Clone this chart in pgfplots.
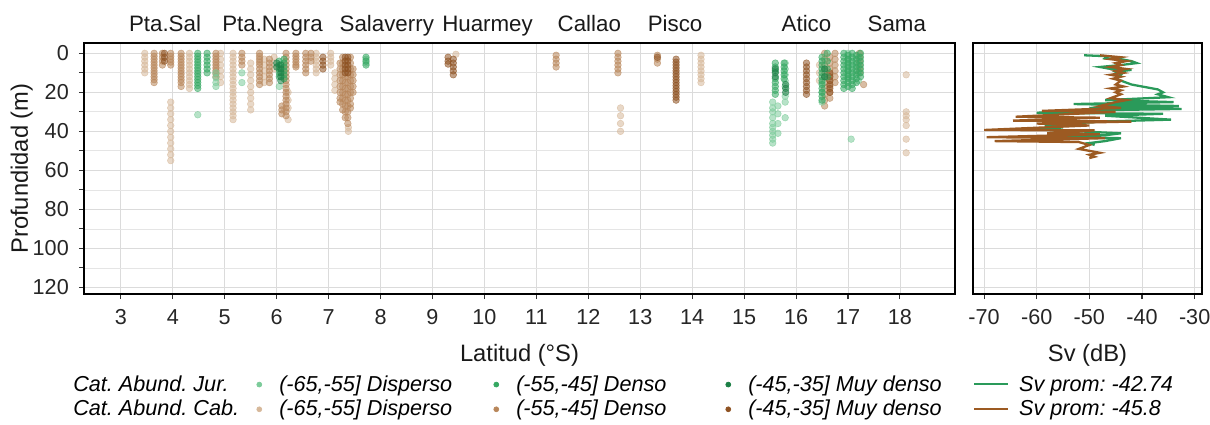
\documentclass[border=0pt]{standalone}
\usepackage{fontspec}
\setmainfont{Liberation Sans}
\usepackage{pgfplots}
\pgfplotsset{compat=1.18}
\frenchspacing

\definecolor{jurL}{HTML}{7CCB9A}
\definecolor{jurD}{HTML}{35A862}
\definecolor{jurM}{HTML}{1B7F45}
\definecolor{cabL}{HTML}{D6B89A}
\definecolor{cabD}{HTML}{B8865A}
\definecolor{cabM}{HTML}{8E5222}
\definecolor{svJ}{HTML}{2A9A5A}
\definecolor{svC}{HTML}{9C5A22}

\pgfplotsset{
  panel/.style={
    scale only axis, anchor=south west, height=5.02cm,
    y dir=reverse, ymin=-5.3, ymax=123.4,
    ytick={0,20,...,120}, minor ytick={10,30,...,110},
    grid=both,
    major grid style={black!14, line width=0.5pt},
    minor grid style={black!10, line width=0.4pt},
    axis line style={black, line width=0.9pt},
    tick style={black!80, line width=0.6pt},
    major tick length=0.1cm, minor tick length=0.1cm,
    tick align=outside, xtick pos=bottom, ytick pos=left,
    tick label style={font=\fontsize{12.3}{14}\selectfont, text=black!85},
    xticklabel style={yshift=-0.08cm},
    yticklabel style={xshift=-0.08cm},
    /pgf/number format/assume math mode=true,
    label style={font=\fontsize{13.5}{15}\selectfont, text=black!90},
    xlabel style={at={(axis description cs:0.5,-0.243)}, anchor=center},
  },
  pts/.style={only marks, mark=*, mark size=1.9pt, forget plot,
    mark options={fill opacity=0.55, draw opacity=0.65, line width=0.3pt}},
  dotkey/.style={legend image code/.code={%
    \draw[draw=none] (0cm,-0.1cm) rectangle (0.8cm,0.1cm);
    \draw[##1, only marks, mark=*, mark size=1.4pt] plot coordinates {(0.4cm,0.13cm)};}},
  linekey/.style={legend image code/.code={%
    \draw[draw=none] (0cm,-0.1cm) rectangle (0.9cm,0.1cm);
    \draw[##1, line width=1pt] (0cm,0.14cm) -- (0.68cm,0.14cm);}},
}

\begin{document}
\begin{tikzpicture}
\useasboundingbox (0,0) rectangle (24.2cm,-8.5cm);

\begin{axis}[panel, name=main,
  at={(1.68cm,-5.88cm)}, width=17.42cm,
  xmin=2.29, xmax=19.06, xtick={3,4,...,18},
  clip=false,
  xlabel={Latitud (°S)},
  ylabel={Profundidad (m)},
  ylabel style={at={(axis description cs:-0.0714,0.5)}, anchor=center},
  legend columns=5,
  legend style={draw=none, fill=none, inner sep=0pt, at={(axis description cs:-0.0127,-0.323)}, anchor=north west,
    font=\fontsize{12.3}{14}\selectfont\itshape, column sep=0pt, row sep=2.3pt,
    nodes={inner sep=0pt, anchor=base west}},
]
% legend
\addlegendimage{empty legend}\addlegendentry{\makebox[3.32cm][l]{Cat. Abund. Jur.}}
\addlegendimage{dotkey, color=jurL}\addlegendentry{\makebox[3.94cm][l]{(-65,-55] Disperso}}
\addlegendimage{dotkey, color=jurD}\addlegendentry{\makebox[3.84cm][l]{(-55,-45] Denso}}
\addlegendimage{dotkey, color=jurM}\addlegendentry{\makebox[4.5cm][l]{(-45,-35] Muy denso}}
\addlegendimage{linekey, color=svJ}\addlegendentry{Sv prom: -42.74}
\addlegendimage{empty legend}\addlegendentry{\makebox[3.32cm][l]{Cat. Abund. Cab.}}
\addlegendimage{dotkey, color=cabL}\addlegendentry{\makebox[3.94cm][l]{(-65,-55] Disperso}}
\addlegendimage{dotkey, color=cabD}\addlegendentry{\makebox[3.84cm][l]{(-55,-45] Denso}}
\addlegendimage{dotkey, color=cabM}\addlegendentry{\makebox[4.5cm][l]{(-45,-35] Muy denso}}
\addlegendimage{linekey, color=svC}\addlegendentry{Sv prom: -45.8}

% Cab. Disperso
\addplot[pts, color=cabL] table[row sep=\\]{x y\\
3.46 0\\ 3.46 2\\ 3.46 4\\ 3.46 6\\ 3.46 8\\ 3.46 10\\
3.96 25\\ 3.96 28\\ 3.96 31\\ 3.96 34\\ 3.96 37\\ 3.96 40\\ 3.96 43\\ 3.96 46\\ 3.96 49\\ 3.96 52\\ 3.96 55\\
4.32 0\\ 4.32 2\\ 4.32 4\\ 4.32 6\\ 4.32 8\\ 4.32 10\\ 4.32 12\\ 4.32 14\\ 4.32 16\\ 4.32 18\\
4.92 0\\ 4.92 3\\ 4.92 6\\ 4.92 9\\ 4.92 12\\ 4.92 15\\
5.16 0\\ 5.16 2\\ 5.16 4\\ 5.16 6\\ 5.16 8\\ 5.16 10\\ 5.16 12\\ 5.16 14\\ 5.16 16\\ 5.16 18\\ 5.16 20\\ 5.16 22\\ 5.16 24\\ 5.16 26\\ 5.16 28\\ 5.16 30\\ 5.16 32\\ 5.16 34\\
5.50 5\\ 5.50 8\\ 5.50 11\\ 5.50 14\\ 5.50 17\\ 5.50 20\\ 5.50 23\\ 5.50 26\\ 5.50 29\\
5.76 3\\ 5.76 6\\ 5.76 9\\ 5.76 12\\ 5.76 15\\
5.95 2\\ 5.95 5\\ 5.95 8\\
6.22 20\\ 6.22 24\\ 6.22 28\\ 6.22 34\\
6.76 0\\ 6.76 2\\ 6.76 4\\ 6.76 6\\ 6.76 8\\ 6.76 10\\
7.04 0\\ 7.04 2\\ 7.04 4\\ 7.04 6\\
7.12 10\\ 7.12 13\\ 7.12 16\\ 7.12 19\\
7.38 38\\ 7.38 40\\
9.45 0.5\\
12.62 28\\ 12.62 32\\ 12.62 36\\ 12.62 40\\
14.17 1\\ 14.17 3\\ 14.17 5\\ 14.17 7\\ 14.17 9\\ 14.17 11\\ 14.17 13\\ 14.17 15\\
16.45 6\\ 16.45 10\\ 16.45 14\\
18.12 11\\ 18.12 30\\ 18.12 32\\ 18.12 34\\ 18.12 37\\ 18.12 44\\ 18.12 51\\
};
% Cab. Denso
\addplot[pts, color=cabD] table[row sep=\\]{x y\\
3.64 0\\ 3.64 1.5\\ 3.64 3\\ 3.64 4.5\\ 3.64 6\\ 3.64 7.5\\ 3.64 9\\ 3.64 10.5\\ 3.64 12\\ 3.64 13.5\\ 3.64 15\\
3.80 0\\ 3.80 2\\ 3.80 4\\ 3.80 6\\
3.96 0\\ 3.96 1.5\\ 3.96 3\\ 3.96 4.5\\ 3.96 6\\
4.16 0\\ 4.16 1.5\\ 4.16 3\\ 4.16 4.5\\ 4.16 6\\ 4.16 7.5\\ 4.16 9\\ 4.16 10.5\\ 4.16 12\\ 4.16 13.5\\ 4.16 15\\ 4.16 17\\
4.83 0\\ 4.83 1.5\\ 4.83 3\\ 4.83 4.5\\ 4.83 6\\ 4.83 7.5\\ 4.83 9\\ 4.83 10.5\\ 4.83 12\\
5.33 0\\ 5.33 2\\ 5.33 4\\ 5.33 6\\
5.67 0\\ 5.67 1.5\\ 5.67 3\\ 5.67 4.5\\ 5.67 6\\ 5.67 8\\ 5.67 10\\ 5.67 12\\ 5.67 14\\ 5.67 16\\
5.86 3\\ 5.86 5\\ 5.86 7\\ 5.86 9\\ 5.86 11\\ 5.86 13\\ 5.86 15\\
6.10 27\\ 6.10 29\\ 6.10 31\\
6.18 0\\ 6.18 2\\ 6.18 4\\ 6.18 6\\ 6.18 8\\ 6.18 10\\ 6.18 12\\ 6.18 14\\ 6.18 16\\ 6.18 18\\ 6.18 20\\ 6.18 22\\ 6.18 24\\ 6.18 26\\ 6.18 28\\ 6.18 30\\ 6.18 32\\
6.37 0\\ 6.37 1.5\\ 6.37 3\\ 6.37 4.5\\ 6.37 6\\ 6.37 7\\
6.56 0\\ 6.56 2\\ 6.56 4\\ 6.56 6\\ 6.56 8\\ 6.56 10\\
6.66 0\\ 6.66 2\\ 6.66 4\\
7.22 5\\ 7.22 8\\ 7.22 11\\ 7.22 14\\ 7.22 17\\ 7.22 20\\ 7.22 23\\ 7.22 25\\
7.27 2\\ 7.27 5\\ 7.27 8\\ 7.27 11\\ 7.27 14\\ 7.27 17\\ 7.27 20\\ 7.27 23\\ 7.27 26\\ 7.27 29\\
7.32 12\\ 7.32 15\\ 7.32 18\\ 7.32 21\\ 7.32 24\\ 7.32 27\\ 7.32 30\\ 7.32 33\\
7.37 12\\ 7.37 15\\ 7.37 18\\ 7.37 21\\ 7.37 24\\ 7.37 27\\ 7.37 30\\ 7.37 33\\ 7.37 36\\
7.42 2\\ 7.42 5\\ 7.42 8\\ 7.42 11\\ 7.42 14\\ 7.42 17\\ 7.42 20\\ 7.42 23\\ 7.42 26\\ 7.42 28\\
7.47 8\\ 7.47 11\\ 7.47 14\\ 7.47 17\\ 7.47 20\\
11.38 1\\ 11.38 3\\ 11.38 5\\ 11.38 7\\
12.57 0\\ 12.57 2\\ 12.57 4\\ 12.57 6\\ 12.57 8\\ 12.57 10\\
13.33 1\\ 13.33 3\\ 13.33 5\\
16.55 0\\ 16.55 3\\ 16.55 6\\ 16.55 9\\ 16.55 12\\ 16.55 15\\ 16.55 18\\ 16.55 21\\ 16.55 24\\ 16.55 27\\
16.65 2\\ 16.65 5\\ 16.65 8\\ 16.65 11\\ 16.65 14\\ 16.65 17\\ 16.65 20\\ 16.65 23\\
16.75 0\\ 16.75 3\\ 16.75 6\\ 16.75 9\\ 16.75 12\\ 16.75 15\\
17.22 0\\ 17.22 2\\ 17.22 4\\ 17.22 6\\ 17.22 8\\ 17.22 10\\
17.30 16\\
};
% Cab. Muy denso
\addplot[pts, color=cabM] table[row sep=\\]{x y\\
3.84 0\\ 3.84 2\\ 3.84 4\\
6.89 2\\ 6.89 4\\ 6.89 6\\ 6.89 8\\
7.32 2\\ 7.32 4\\ 7.32 6\\ 7.32 8\\ 7.32 10\\
7.37 2\\ 7.37 4\\ 7.37 6\\ 7.37 8\\ 7.37 10\\
9.30 2\\ 9.30 4\\ 9.30 5.5\\
9.40 3\\ 9.40 5\\ 9.40 7\\ 9.40 9\\ 9.40 11\\
13.33 2\\
13.69 3\\ 13.69 4.5\\ 13.69 6\\ 13.69 7.5\\ 13.69 9\\ 13.69 10.5\\ 13.69 12\\ 13.69 13.5\\ 13.69 15\\ 13.69 16.5\\ 13.69 18\\ 13.69 19.5\\ 13.69 21\\ 13.69 22.5\\ 13.69 24\\
16.20 5\\ 16.20 7\\ 16.20 9\\ 16.20 11\\ 16.20 13\\ 16.20 15\\ 16.20 17\\ 16.20 19\\ 16.20 21\\
16.65 10\\ 16.65 12\\ 16.65 14\\ 16.65 16\\ 16.65 18\\ 16.65 20\\
};
% Jur. Disperso
\addplot[pts, color=jurL] table[row sep=\\]{x y\\
4.48 31.5\\
4.83 10\\ 4.83 12.5\\ 4.83 15\\ 4.83 17\\
5.33 10\\ 5.33 15\\
6.05 17\\
7.72 3\\ 7.72 5\\
15.55 25\\ 15.55 28\\ 15.55 30\\ 15.55 33\\ 15.55 36\\ 15.55 38\\ 15.55 40\\ 15.55 42\\ 15.55 44\\ 15.55 46\\
15.65 27\\ 15.65 31\\ 15.65 36\\ 15.65 41\\
15.79 5\\ 15.79 8\\ 15.79 11\\ 15.79 14\\ 15.79 17\\ 15.79 22\\ 15.79 25\\ 15.79 33\\
16.50 15\\ 16.50 20\\ 16.50 25\\
17.06 44\\
17.00 0\\ 17.00 3\\ 17.00 6\\ 17.00 9\\ 17.00 12\\
17.20 2\\ 17.20 6\\ 17.20 10\\ 17.20 14\\
};
% Jur. Denso
\addplot[pts, color=jurD] table[row sep=\\]{x y\\
4.48 0\\ 4.48 1.5\\ 4.48 3\\ 4.48 4.5\\ 4.48 6\\ 4.48 7.5\\ 4.48 9\\ 4.48 10.5\\ 4.48 12\\ 4.48 13.5\\ 4.48 15\\ 4.48 16.5\\ 4.48 18\\
4.66 0\\ 4.66 2\\ 4.66 4\\ 4.66 6\\ 4.66 8\\ 4.66 10\\
6.05 4\\ 6.05 6\\ 6.05 8\\ 6.05 10\\ 6.05 12\\
6.14 3\\ 6.14 5\\ 6.14 7\\ 6.14 9\\ 6.14 11\\ 6.14 13\\
7.72 2\\ 7.72 4\\ 7.72 6\\
15.60 5\\ 15.60 7\\ 15.60 9\\ 15.60 13\\ 15.60 15\\ 15.60 17\\ 15.60 19\\ 15.60 21\\
15.77 5\\ 15.77 7\\ 15.77 9\\ 15.77 11\\ 15.77 13\\
16.50 2\\ 16.50 4\\ 16.50 6\\ 16.50 8\\ 16.50 10\\ 16.50 12\\ 16.50 14\\ 16.50 16\\ 16.50 18\\ 16.50 20\\ 16.50 22\\ 16.50 24\\
16.60 0\\ 16.60 4\\ 16.60 8\\ 16.60 12\\
16.92 0\\ 16.92 2\\ 16.92 4\\ 16.92 6\\ 16.92 8\\ 16.92 10\\ 16.92 12\\ 16.92 14\\ 16.92 16\\ 16.92 18\\
17.00 1\\ 17.00 3\\ 17.00 5\\ 17.00 7\\ 17.00 9\\ 17.00 11\\ 17.00 13\\ 17.00 15\\ 17.00 17\\
17.08 0\\ 17.08 2\\ 17.08 4\\ 17.08 6\\ 17.08 8\\ 17.08 10\\ 17.08 12\\ 17.08 14\\ 17.08 16\\ 17.08 18\\
17.16 1\\ 17.16 3\\ 17.16 5\\ 17.16 7\\ 17.16 9\\ 17.16 11\\ 17.16 13\\ 17.16 15\\
17.24 0\\ 17.24 2\\ 17.24 4\\ 17.24 6\\ 17.24 8\\ 17.24 10\\ 17.24 12\\
};
% Jur. Muy denso
\addplot[pts, color=jurM] table[row sep=\\]{x y\\
6.00 5\\ 6.00 7\\
6.08 6\\ 6.08 8\\ 6.08 10\\ 6.08 12\\ 6.08 14\\
15.60 8\\ 15.60 10\\ 15.60 12\\
15.80 16\\ 15.80 18\\ 15.80 20\\
16.55 8\\ 16.55 12\\
};

% zone labels above the panel
\foreach \lat/\name in {3.85/Pta.Sal, 5.92/Pta.Negra, 8.12/Salaverry, 10.06/Huarmey, 12.02/Callao, 13.67/Pisco, 16.2/Atico, 17.94/Sama}{
  \edef\tmp{\noexpand\node[anchor=base, font=\noexpand\fontsize{12.7}{14}\noexpand\selectfont, text=black!90, yshift=0.22cm] at (axis cs:\lat,-5.3) {\name};}
  \tmp
}
\end{axis}

\begin{axis}[panel,
  at={(19.46cm,-5.88cm)}, width=4.58cm,
  xmin=-72.1, xmax=-28.6, xtick={-70,-60,...,-30},
  yticklabels={}, y tick style={draw=none},
  xlabel={Sv (dB)},
]
\addplot[color=svJ, line width=1.3pt] table[row sep=\\]{x y\\
-51 1\\ -46.5 1.5\\ -47 2.5\\ -44 3\\ -42 4\\ -41 5\\ -44 6\\ -48 7\\ -46 8\\ -42 8.5\\
-45 9.5\\ -44 11\\ -45 13\\ -43 15\\ -42 16\\ -40 17\\ -37 18.5\\ -36 20\\ -37 21\\ -35 22.5\\
-47 24\\ -34 25\\ -53 26\\ -33 27\\ -50 28\\ -32.5 28.5\\ -55 29.5\\ -60 30.5\\ -36 31\\ -47 32\\
-34.5 34\\ -48 35\\ -58.5 37\\ -55 38\\ -60 39\\ -52 40\\ -44 41\\ -47 42\\ -60 43\\ -44 43.5\\
-47 45\\ -50 46\\ -49 47\\
};
\addplot[color=svC, line width=1.3pt] table[row sep=\\]{x y\\
-48 1\\ -44 2\\ -46 3\\ -43 4\\ -45 5\\ -44 6\\ -46 7\\ -43 8\\ -45 9\\ -43.5 10\\
-46 11\\ -44 12\\ -45.5 13\\ -44 14\\ -45 16\\ -43.5 17\\ -46 18\\ -44 19\\ -45 20\\ -44 21\\
-46 23\\ -43 24\\ -45 25\\ -48 27\\ -44 28\\ -59 29.5\\ -45 30\\ -64 32.5\\ -48 33\\ -64.5 34.5\\
-42 35\\ -60 36\\ -50 37\\ -70 39.3\\ -49 39.5\\ -58 41\\ -48 41.5\\ -69.5 43\\ -47 43.5\\ -68 45\\
-52 45.5\\ -50 47\\ -52 49\\ -50 50\\ -48 51\\ -50 52\\ -49 53\\ -50 53.7\\
};
\end{axis}
\end{tikzpicture}
\end{document}
